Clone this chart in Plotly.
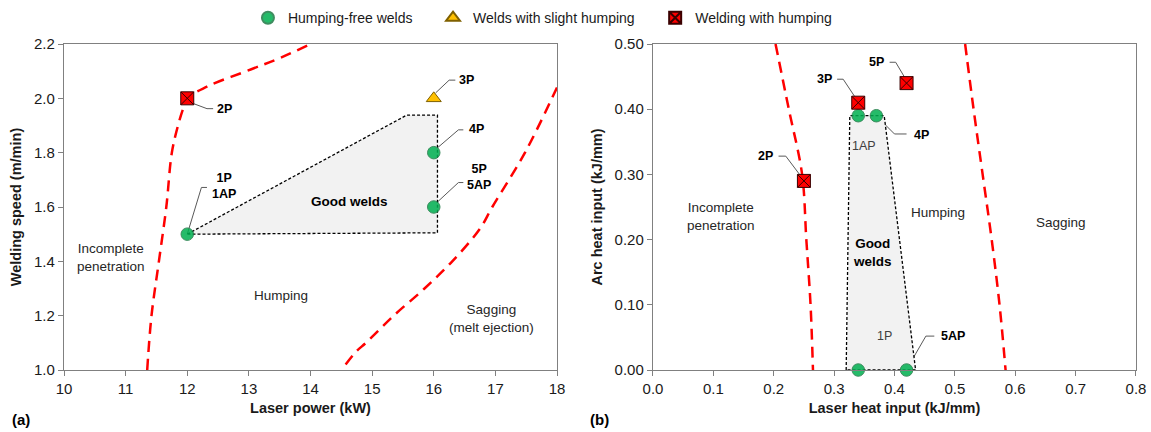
import plotly.graph_objects as go
from plotly.subplots import make_subplots

# ---------------- data: panel (a) ----------------
a_free_x = [12, 16, 16]
a_free_y = [1.5, 1.8, 1.6]
a_slight_x = [16]
a_slight_y = [2.0]
a_hump_x = [12]
a_hump_y = [2.0]

a_good_x = [12.0, 15.56, 16.06, 16.06, 12.0]
a_good_y = [1.5, 1.938, 1.938, 1.505, 1.5]

a_bound1_x = [11.35, 11.42, 11.54, 11.66, 11.75, 11.85, 11.93, 12.0, 12.32, 13.04, 13.52, 14.0]
a_bound1_y = [1.0, 1.2, 1.4, 1.6, 1.8, 1.9, 1.96, 2.0, 2.043, 2.107, 2.15, 2.2]
a_bound2_x = [14.57, 14.75, 14.9, 15.35, 15.85, 16.3, 16.75, 16.95, 17.48, 18.0]
a_bound2_y = [1.02, 1.07, 1.1, 1.2, 1.3, 1.4, 1.52, 1.6, 1.8, 2.04]

# ---------------- data: panel (b) ----------------
b_free_x = [0.34, 0.37, 0.34, 0.42]
b_free_y = [0.39, 0.39, 0.0, 0.0]
b_hump_x = [0.25, 0.34, 0.42]
b_hump_y = [0.29, 0.41, 0.44]

b_good_x = [0.32, 0.326, 0.383, 0.435, 0.32]
b_good_y = [0.0, 0.39, 0.39, 0.0, 0.0]

b_bound1_x = [0.203, 0.225, 0.247, 0.254, 0.261, 0.265]
b_bound1_y = [0.5, 0.4, 0.3, 0.2, 0.1, 0.0]
b_bound2_x = [0.517, 0.531, 0.546, 0.561, 0.574, 0.584]
b_bound2_y = [0.5, 0.4, 0.3, 0.2, 0.1, 0.0]

# legend names
series_names = ["Humping-free welds", "Welds with slight humping", "Welding with humping"]

# point labels: (text, x, y, bold) and leader polylines
a_labels = [("1P<br>1AP", 12.6, 1.677, True), ("2P", 12.6, 1.962, True),
            ("3P", 16.53, 2.067, True), ("4P", 16.7, 1.888, True),
            ("5P<br>5AP", 16.73, 1.71, True)]
a_leaders = [[(12.0, 1.5), (12.23, 1.672), (12.32, 1.672)],
             [(12.05, 1.985), (12.32, 1.962), (12.42, 1.962)],
             [(16.03, 2.02), (16.25, 2.067), (16.35, 2.067)],
             [(16.02, 1.81), (16.4, 1.884), (16.48, 1.884)],
             [(16.02, 1.61), (16.4, 1.69), (16.48, 1.69)]]
b_labels = [("2P", 0.186, 0.328, True), ("3P", 0.284, 0.446, True),
            ("5P", 0.371, 0.472, True), ("1AP", 0.349, 0.343, False),
            ("4P", 0.445, 0.361, True), ("1P", 0.383, 0.052, False),
            ("5AP", 0.497, 0.052, True)]
b_leaders = [[(0.208, 0.328), (0.22, 0.328), (0.246, 0.296)],
             [(0.305, 0.446), (0.315, 0.446), (0.338, 0.414)],
             [(0.392, 0.472), (0.402, 0.472), (0.418, 0.447)],
             [(0.341, 0.386), (0.345, 0.358)],
             [(0.373, 0.387), (0.40, 0.362), (0.42, 0.362)],
             [(0.342, 0.004), (0.355, 0.052), (0.364, 0.052)],
             [(0.422, 0.004), (0.452, 0.052), (0.466, 0.052)]]
a_regions = [("Incomplete<br>penetration", 10.76, 1.415, False),
             ("Humping", 13.52, 1.276, False),
             ("Sagging<br>(melt ejection)", 16.93, 1.19, False),
             ("Good welds", 14.63, 1.622, True)]
b_regions = [("Incomplete<br>penetration", 0.112, 0.236, False),
             ("Humping", 0.472, 0.242, False),
             ("Sagging", 0.675, 0.227, False),
             ("Good<br>welds", 0.363, 0.18, True)]

FONT = "Liberation Sans, Arial, sans-serif"
GREEN = "#00B050"
RED = "#FF0000"
GOLD = "#FFC000"
PAD = "\u00a0" * 4

fig = make_subplots(rows=1, cols=2, horizontal_spacing=0.0894)

def add_panel(col, good_x, good_y, b1x, b1y, b2x, b2y):
    fig.add_trace(go.Scatter(x=good_x, y=good_y, mode="lines", fill="toself",
                             fillcolor="#F2F2F2",
                             line=dict(color="#000000", width=1.3, dash="3px,2px"),
                             showlegend=False, hoverinfo="skip"), row=1, col=col)
    for bx, by in ((b1x, b1y), (b2x, b2y)):
        fig.add_trace(go.Scatter(x=bx, y=by, mode="lines",
                                 line=dict(color=RED, width=2.5, dash="11px,7px", shape="spline"),
                                 showlegend=False, hoverinfo="skip"), row=1, col=col)

add_panel(1, a_good_x, a_good_y, a_bound1_x, a_bound1_y, a_bound2_x, a_bound2_y)
add_panel(2, b_good_x, b_good_y, b_bound1_x, b_bound1_y, b_bound2_x, b_bound2_y)

circ = dict(symbol="circle", size=12.5, color=GREEN, opacity=0.85,
            line=dict(color="#1E7A45", width=1))
tri = dict(symbol="triangle-up", size=13, color=GOLD, line=dict(color="#7F6000", width=1))
sq = dict(symbol="square-x", size=13, color=RED, line=dict(color="#3A0000", width=1))

fig.add_trace(go.Scatter(x=a_free_x, y=a_free_y, mode="markers", marker=circ,
                         name=series_names[0] + PAD, legendgroup="f", cliponaxis=False), row=1, col=1)
fig.add_trace(go.Scatter(x=a_slight_x, y=a_slight_y, mode="markers", marker=tri,
                         name=series_names[1] + PAD, legendgroup="s", cliponaxis=False), row=1, col=1)
fig.add_trace(go.Scatter(x=a_hump_x, y=a_hump_y, mode="markers", marker=sq,
                         name=series_names[2], legendgroup="h", cliponaxis=False), row=1, col=1)
fig.add_trace(go.Scatter(x=b_free_x, y=b_free_y, mode="markers", marker=circ,
                         name=series_names[0], legendgroup="f", showlegend=False,
                         cliponaxis=False), row=1, col=2)
fig.add_trace(go.Scatter(x=b_hump_x, y=b_hump_y, mode="markers", marker=sq,
                         name=series_names[2], legendgroup="h", showlegend=False,
                         cliponaxis=False), row=1, col=2)

def add_texts(labels, leaders, regions, xr, yr):
    for pts in leaders:
        path = "M " + " L ".join(f"{px},{py}" for px, py in pts)
        fig.add_shape(type="path", path=path, xref=xr, yref=yr,
                      line=dict(color="#595959", width=1), layer="below")
    for txt, tx, ty, bold in labels:
        fig.add_annotation(x=tx, y=ty, xref=xr, yref=yr, showarrow=False,
                           text=f"<b>{txt}</b>" if bold else txt,
                           font=dict(family=FONT, size=12.5,
                                     color="#000000" if bold else "#404040"))
    for txt, tx, ty, bold in regions:
        fig.add_annotation(x=tx, y=ty, xref=xr, yref=yr, showarrow=False,
                           text=f"<b>{txt}</b>" if bold else txt,
                           font=dict(family=FONT, size=13.5, color="#000000" if bold else "#262626"))

add_texts(a_labels, a_leaders, a_regions, "x", "y")
add_texts(b_labels, b_leaders, b_regions, "x2", "y2")

axis_common = dict(showline=True, linecolor="#808080", linewidth=1.3, mirror=True,
                   ticks="outside", ticklen=5, tickcolor="#808080", showgrid=False,
                   zeroline=False, tickfont=dict(family=FONT, size=15, color="#1a1a1a"))
title_font = dict(family=FONT, size=14.5, color="#1a1a1a")

fig.update_xaxes(range=[10, 18], dtick=1, title=dict(text="<b>Laser power (kW)</b>",
                 font=title_font, standoff=6), row=1, col=1, **axis_common)
fig.update_yaxes(range=[1.0, 2.2], dtick=0.2, tickformat=".1f",
                 title=dict(text="<b>Welding speed (m/min)</b>", font=title_font, standoff=8),
                 row=1, col=1, **axis_common)
fig.update_xaxes(range=[0, 0.8], dtick=0.1, tickformat=".1f",
                 title=dict(text="<b>Laser heat input (kJ/mm)</b>", font=title_font, standoff=6),
                 row=1, col=2, **axis_common)
fig.update_yaxes(range=[0, 0.5], dtick=0.1, tickformat=".2f",
                 title=dict(text="<b>Arc heat input (kJ/mm)</b>", font=title_font, standoff=8),
                 row=1, col=2, **axis_common)

fig.add_annotation(x=-0.05, y=-0.153, xref="paper", yref="paper", xanchor="left",
                   yanchor="middle", showarrow=False, text="<b>(a)</b>",
                   font=dict(family=FONT, size=15, color="#000000"))
fig.add_annotation(x=0.489, y=-0.153, xref="paper", yref="paper", xanchor="left",
                   yanchor="middle", showarrow=False, text="<b>(b)</b>",
                   font=dict(family=FONT, size=15, color="#000000"))

fig.update_layout(
    width=1151, height=432, autosize=False,
    margin=dict(l=64, r=15, t=44, b=62, autoexpand=False),
    plot_bgcolor="white", paper_bgcolor="white",
    legend=dict(orientation="h", x=0.1716, y=0.958, xref="paper", yref="container",
                xanchor="left", yanchor="middle",
                font=dict(family=FONT, size=14, color="#1a1a1a"),
                itemsizing="constant", bgcolor="rgba(0,0,0,0)"),
    font=dict(family=FONT),
)
fig.update_xaxes(domain=[0.0, 0.4599], row=1, col=1)
fig.update_xaxes(domain=[0.5494, 1.0], row=1, col=2)

fig.write_html("out.html", config={"displayModeBar": False},
               post_script="document.body.style.margin='0';document.body.style.padding='0';"
                           "document.documentElement.style.overflow='hidden';")
